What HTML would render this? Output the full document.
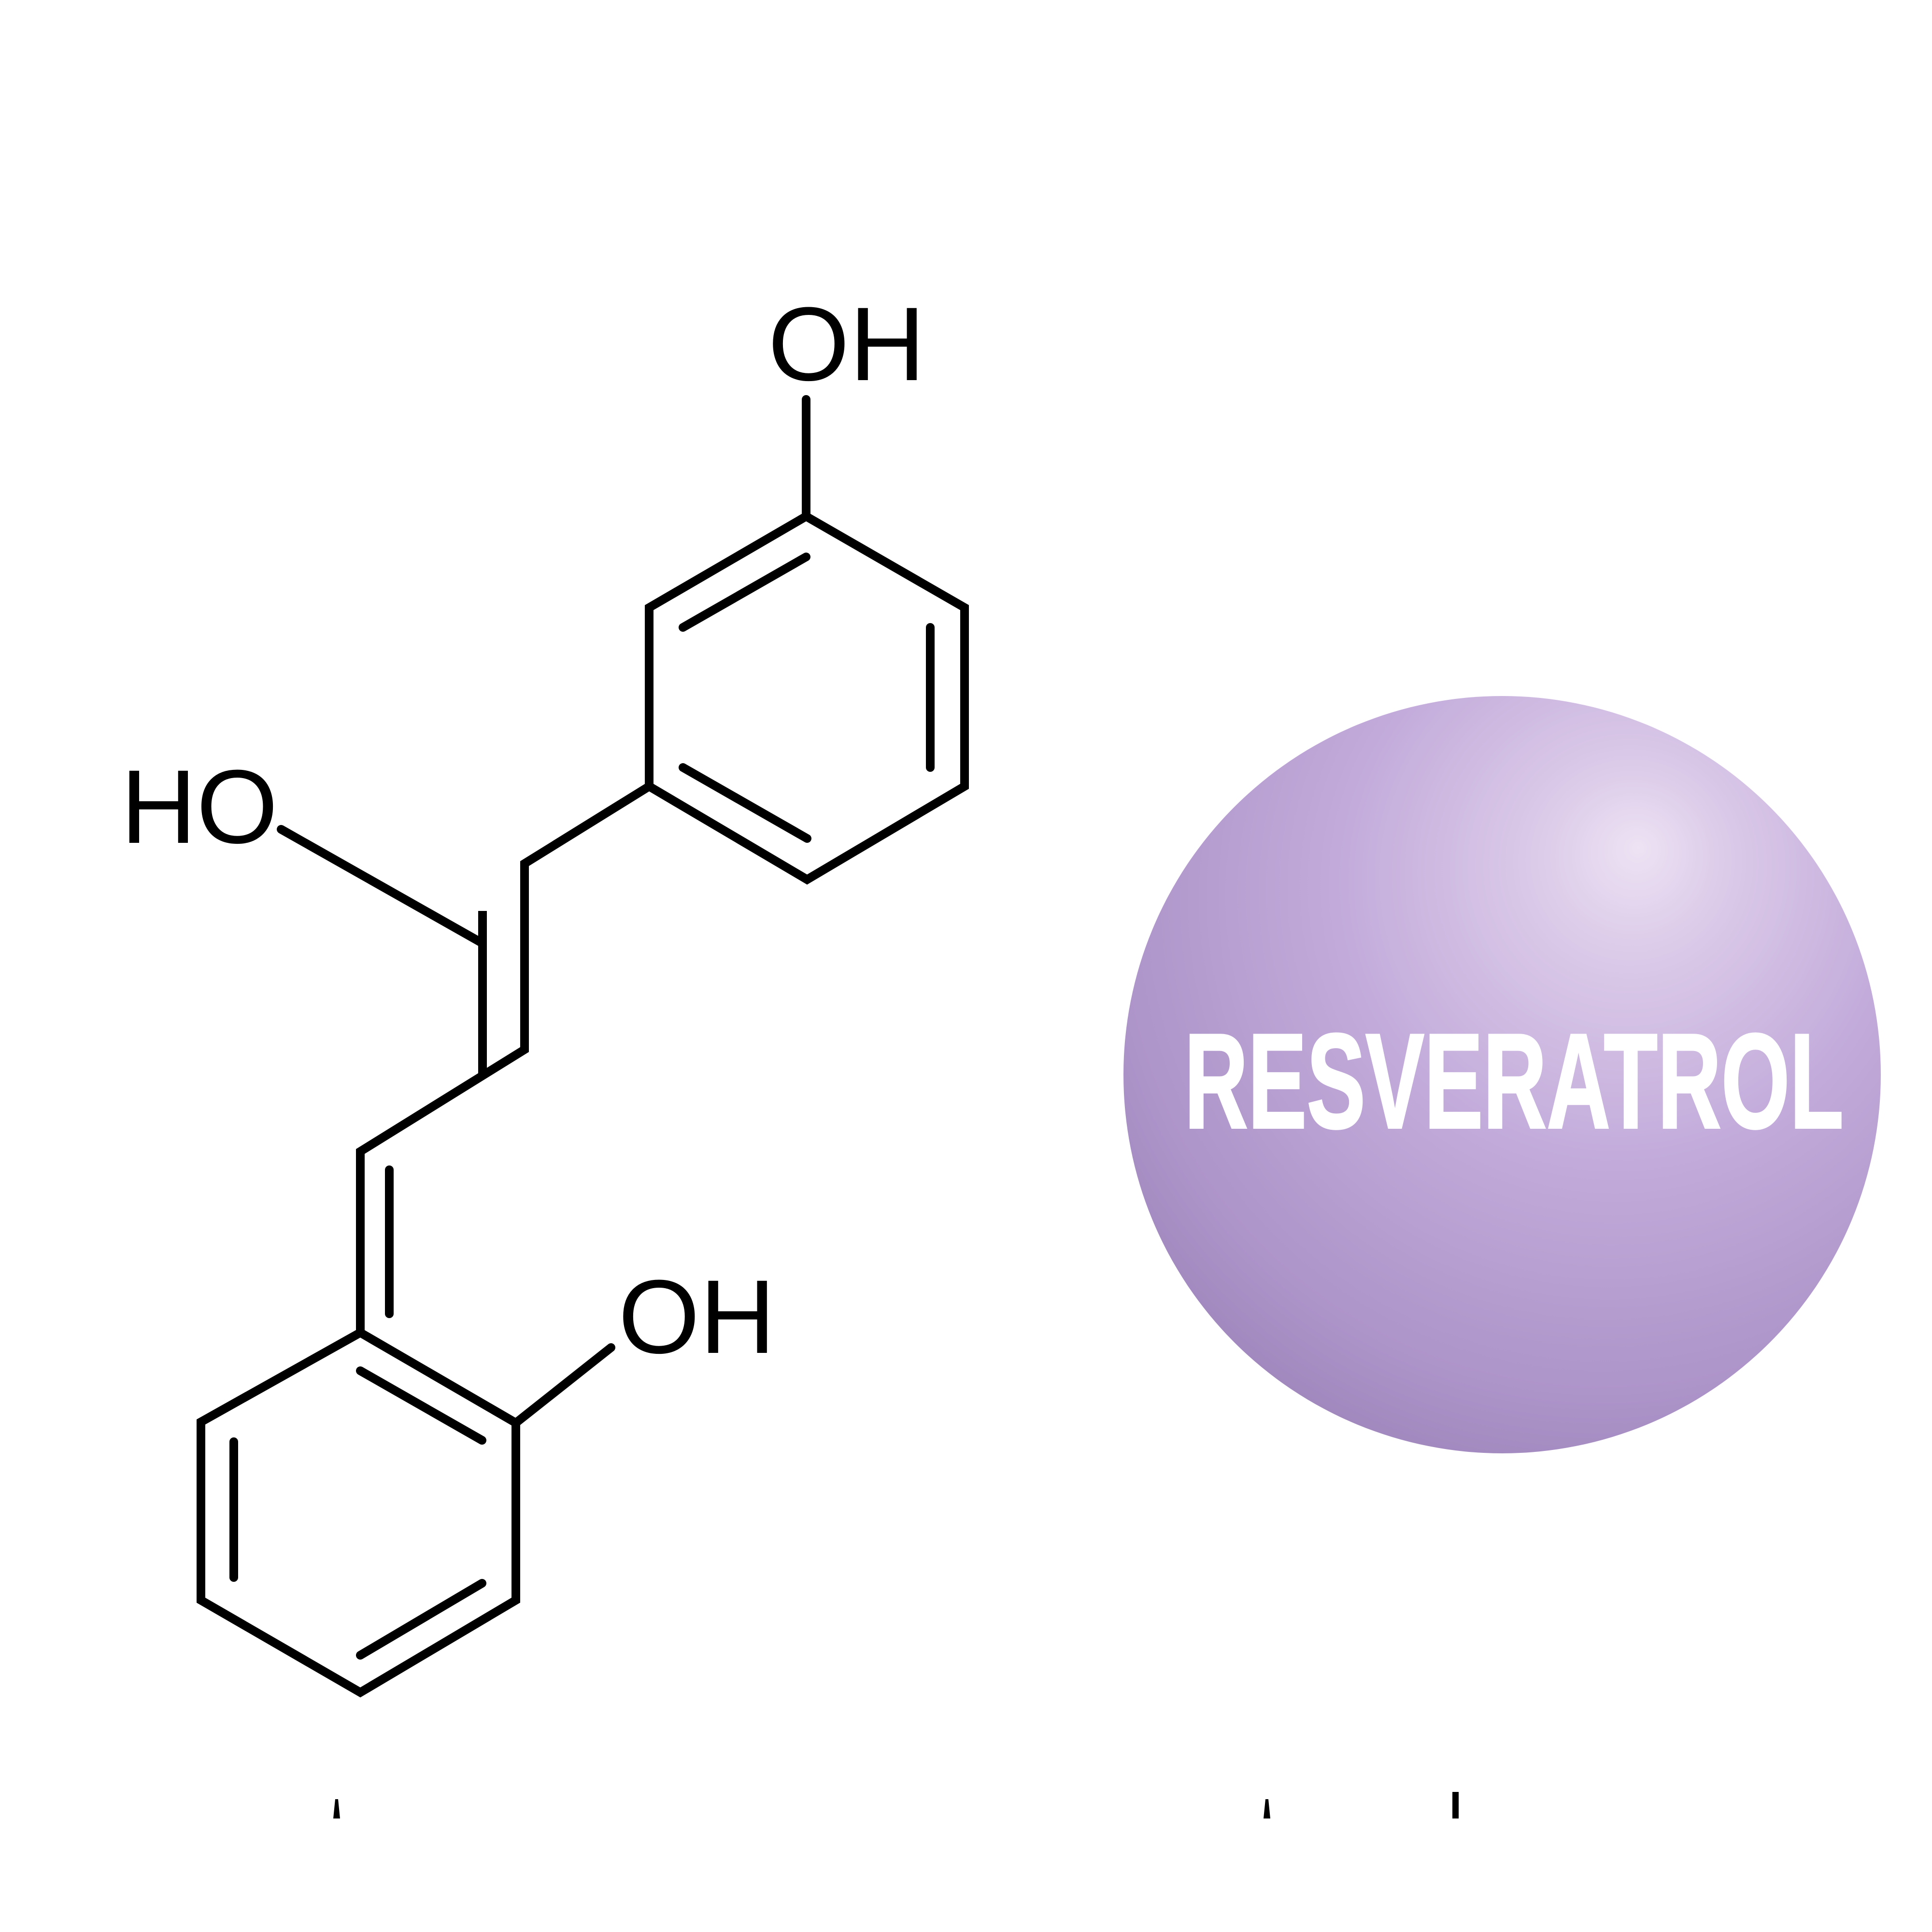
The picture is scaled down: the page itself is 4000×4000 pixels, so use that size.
<!DOCTYPE html>
<html><head><meta charset="utf-8"><style>
html,body{margin:0;padding:0;background:#fff;}
svg{display:block;}
</style></head><body>
<svg width="4000" height="4000" viewBox="0 0 4000 4000" xmlns="http://www.w3.org/2000/svg">
<defs>
<radialGradient id="g" cx="0.62" cy="0.3" r="0.8" fx="0.68" fy="0.2">
<stop offset="0" stop-color="#ede3f4"/>
<stop offset="0.15" stop-color="#dccbe9"/>
<stop offset="0.45" stop-color="#c3acdb"/>
<stop offset="0.8" stop-color="#ad94c9"/>
<stop offset="1" stop-color="#9a82b8"/>
</radialGradient>
</defs>
<rect width="4000" height="4000" fill="#fff"/>
<circle cx="3110" cy="2225" r="784" fill="url(#g)"/>
<text x="2452" y="2335" font-family="'Liberation Sans Narrow','Liberation Sans',sans-serif" font-weight="bold" font-size="280" fill="#fff" stroke="#fff" stroke-width="4" textLength="1365" lengthAdjust="spacingAndGlyphs">RESVERATROL</text>

<g stroke="#000" stroke-width="18" fill="none" stroke-linejoin="miter">
<polygon points="1669,1069 1997,1258 1997,1628 1671,1821 1344,1628 1344,1258"/>
<line x1="1669" y1="827" x2="1669" y2="1069" stroke-linecap="round"/>
<polyline points="1344,1628 1086,1788 1086,2173 746,2384 746,2759"/>
<line x1="582" y1="1717" x2="999" y2="1953" stroke-linecap="round"/>
<line x1="999" y1="1886" x2="999" y2="2222"/>
<polygon points="746,2759 1068,2946 1068,3313 746,3504 416,3313 416,2944"/>
<line x1="1068" y1="2946" x2="1265" y2="2790" stroke-linecap="round"/>
</g>
<g stroke="#000" stroke-width="18" fill="none" stroke-linecap="round">
<line x1="1414" y1="1299" x2="1669" y2="1153"/>
<line x1="1926" y1="1299" x2="1926" y2="1589"/>
<line x1="1414" y1="1589" x2="1671" y2="1736"/>
<line x1="806" y1="2422" x2="806" y2="2720"/>
<line x1="746" y1="2838" x2="998" y2="2982"/>
<line x1="484" y1="2985" x2="484" y2="3266"/>
<line x1="746" y1="3427" x2="998" y2="3278"/>
</g>
<g font-family="'Liberation Sans',sans-serif" font-size="217" fill="#000">
<text x="1590" y="787">OH</text>
<text x="250" y="1745">HO</text>
<text x="1280" y="2801">OH</text>
</g>
<g fill="#000">
<polygon points="690,3765 704,3765 700,3725 694,3725"/>
<polygon points="2616,3765 2630,3765 2626,3725 2620,3725"/>
<rect x="3007" y="3710" width="13" height="55"/>
</g>
</svg>
</body></html>
